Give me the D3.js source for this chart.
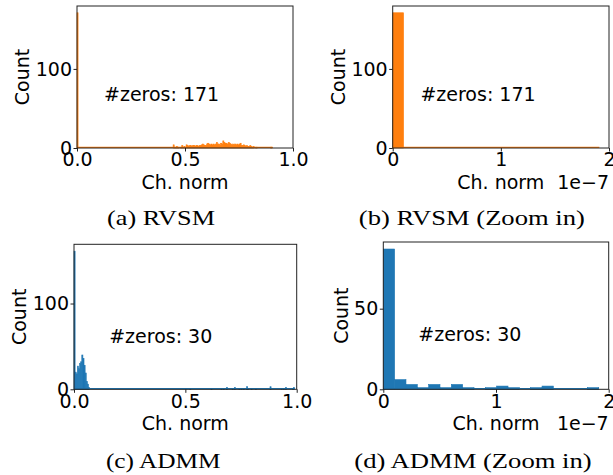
<!DOCTYPE html>
<html>
<head>
<meta charset="utf-8">
<style>
  body { margin: 0; background: #fff; }
  svg { display: block; }
  text { font-family: "DejaVu Sans", sans-serif; font-size: 19px; fill: #000; }
  text.caption { font-family: "Liberation Serif", serif; font-size: 21.5px; }
</style>
</head>
<body>
<svg id="fig" width="613" height="475"></svg>
<script src="https://cdn.jsdelivr.net/npm/d3@7"></script>
<script>
// full-range histograms: bins of width 0.005 on [0, 1]
const binWidth = 0.005;

// (a) RVSM, full range
const rvsmFirstBin = 171;           // bin [0, 0.005)
const rvsmRunStart = 0.445;         // left edge of the dense run
const rvsmRun = [4, 1, 1, 2, 1, 1, 0, 1, 3, 1,
  2, 1, 4, 3, 2, 3, 3, 2, 3, 3,
  2, 3, 3, 2, 3, 3, 4, 5, 4, 3,
  3, 5, 6, 5, 4, 5, 4, 5, 4, 5,
  7, 5, 5, 4, 6, 5, 9, 7, 6, 6,
  5, 7, 6, 5, 4, 5, 4, 5, 4, 5,
  4, 5, 6, 3, 3, 4, 3, 2, 3, 2,
  2, 3, 2, 1, 2, 0, 1, 1];
const rvsmTailX = [0.895, 0.900];
const rvsmTailY = [1, 1];
const rvsmEnd = 0.905;

// (c) ADMM, full range
const admmHead = [161, 20, 18, 27, 24, 30, 32, 40, 36, 28, 19, 9, 6, 2];   // bins from 0
const admmTailX = [0.52, 0.615, 0.66, 0.67, 0.685, 0.71, 0.72, 0.74, 0.75, 0.76,
  0.775, 0.78, 0.795, 0.815, 0.88, 0.93, 0.94, 0.95, 0.98, 0.985];
const admmTailY = [1, 1, 1, 1, 2, 1, 2, 1, 1, 1, 3, 1, 1, 1, 3, 1, 1, 2, 1, 2];
const admmEnd = 0.99;

// zoomed histograms, x in units of 1e-7: 19 bins over [0, 1.911]
const zoomBinWidth = 0.1006;
const rvsmZoom = [171, 0, 0, 0, 0, 0, 0, 0, 0, 0, 0, 0, 0, 0, 0, 0, 0, 0, 0];
const admmZoom = [87, 6, 3, 1, 3, 1, 3, 1, 0, 1, 2, 1, 0, 1, 2, 0, 0, 0, 1];
const zoomEnd = 1.911;

const rvsmZeros = 171;
const admmZeros = 30;

const xTicksFull = [0, 0.5, 1.0];
const xTicksZoom = [0, 1, 2];
const yTicksRvsm = [0, 100];
const yTicksAdmm = [0, 100];
const yTicksAdmmZoom = [0, 50];
const captions = ["(a) RVSM", "(b) RVSM (Zoom in)", "(c) ADMM", "(d) ADMM (Zoom in)"];

const orange = "#ff7f0e", blue = "#1f77b4";

function runBars(start, width, counts) {
  return counts.map((n, i) => ({ x0: start + i * width, x1: start + (i + 1) * width, n }));
}
function pointBars(xs, ys, width) {
  return xs.map((v, i) => ({ x0: v, x1: v + width, n: ys[i] }));
}

const panels = [
  {
    box: [77, 6, 293, 148], color: orange,
    bars: [{ x0: 0, x1: binWidth, n: rvsmFirstBin }]
      .concat(runBars(rvsmRunStart, binWidth, rvsmRun))
      .concat(pointBars(rvsmTailX, rvsmTailY, binWidth)),
    xEnd: rvsmEnd, xDomain: [0, 1], yMax: rvsmFirstBin * 1.05,
    xTicks: xTicksFull, xFmt: d3.format(".1f"), yTicks: yTicksRvsm,
    zeros: rvsmZeros, note: [0.125, 0.669], offset: false,
    caption: [captions[0], 161, 225, 108]
  },
  {
    box: [392.7, 6, 609, 148], color: orange,
    bars: runBars(0, zoomBinWidth, rvsmZoom),
    xEnd: zoomEnd, xDomain: [0, 2], yMax: rvsmFirstBin * 1.05,
    xTicks: xTicksZoom, xFmt: d3.format("d"), yTicks: yTicksRvsm,
    zeros: rvsmZeros, note: [0.128, 0.669], offset: true,
    caption: [captions[1], 471.8, 225, 226]
  },
  {
    box: [74, 244.3, 296.7, 389.3], color: blue,
    bars: runBars(0, binWidth, admmHead).concat(pointBars(admmTailX, admmTailY, binWidth)),
    xEnd: admmEnd, xDomain: [0, 1], yMax: admmHead[0] * 1.05,
    xTicks: xTicksFull, xFmt: d3.format(".1f"), yTicks: yTicksAdmm,
    zeros: admmZeros, note: [0.158, 0.68], offset: false,
    caption: [captions[2], 163.3, 468, 114.7]
  },
  {
    box: [383.3, 242, 608.7, 389.3], color: blue,
    bars: runBars(0, zoomBinWidth, admmZoom),
    xEnd: zoomEnd, xDomain: [0, 2], yMax: admmZoom[0] * 1.05,
    xTicks: xTicksZoom, xFmt: d3.format("d"), yTicks: yTicksAdmmZoom,
    zeros: admmZeros, note: [0.155, 0.674], offset: true,
    caption: [captions[3], 473, 468, 237.4]
  }
];

const svg = d3.select("#fig");

panels.forEach(p => {
  const [left, top, right, bottom] = p.box;
  const g = svg.append("g");
  const x = d3.scaleLinear().domain(p.xDomain).range([left, right]);
  const y = d3.scaleLinear().domain([0, p.yMax]).range([bottom, top]);

  // stepfilled look: fill plus a thin edge in the same colour
  g.selectAll("rect.bar")
    .data(p.bars.filter(d => d.n > 0))
    .join("rect")
    .attr("class", "bar")
    .attr("x", d => x(d.x0))
    .attr("width", d => x(d.x1) - x(d.x0))
    .attr("y", d => y(d.n))
    .attr("height", d => y(0) - y(d.n))
    .attr("fill", p.color)
    .attr("stroke", p.color)
    .attr("stroke-width", 0.6);

  // outline of the histogram along zero
  g.append("line")
    .attr("x1", x(0)).attr("x2", x(p.xEnd))
    .attr("y1", y(0) - 0.6).attr("y2", y(0) - 0.6)
    .attr("stroke", p.color).attr("stroke-width", 1.2);

  g.append("rect")
    .attr("x", left).attr("y", top)
    .attr("width", right - left).attr("height", bottom - top)
    .attr("fill", "none").attr("stroke", "#222").attr("stroke-width", 1);

  const xa = g.append("g")
    .attr("transform", `translate(0,${bottom})`)
    .call(d3.axisBottom(x).tickValues(p.xTicks).tickFormat(p.xFmt).tickSize(3.5).tickPadding(1.5));
  xa.select(".domain").remove();
  xa.selectAll(".tick line").attr("stroke", "#222");

  const ya = g.append("g")
    .attr("transform", `translate(${left},0)`)
    .call(d3.axisLeft(y).tickValues(p.yTicks).tickFormat(d3.format("d")).tickSize(3.5).tickPadding(1.5));
  ya.select(".domain").remove();
  ya.selectAll(".tick line").attr("stroke", "#222");

  g.append("text")
    .attr("x", (left + right) / 2)
    .attr("y", bottom + 40.5)
    .attr("text-anchor", "middle")
    .text("Ch. norm");

  if (p.offset) {
    g.append("text")
      .attr("x", right)
      .attr("y", bottom + 40.5)
      .attr("text-anchor", "end")
      .text("1e\u22127");
  }

  // getBBox is in the axis group's own space, so add its translation back
  const yb = ya.node().getBBox();
  g.append("text")
    .attr("transform", `translate(${left + yb.x - 6.5},${(top + bottom) / 2}) rotate(-90)`)
    .attr("text-anchor", "middle")
    .text("Count");

  g.append("text")
    .attr("x", left + p.note[0] * (right - left))
    .attr("y", top + p.note[1] * (bottom - top))
    .text("#zeros: " + p.zeros);

  const [label, cx, base, len] = p.caption;
  svg.append("text")
    .attr("class", "caption")
    .attr("x", cx)
    .attr("y", base)
    .attr("text-anchor", "middle")
    .attr("textLength", len)
    .attr("lengthAdjust", "spacingAndGlyphs")
    .text(label);
});
</script>
</body>
</html>
